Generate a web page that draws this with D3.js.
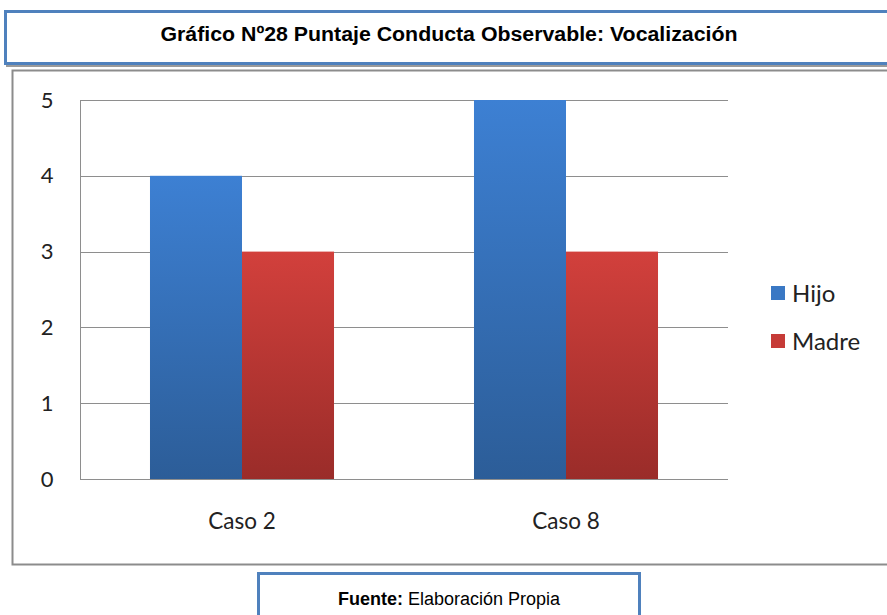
<!DOCTYPE html>
<html>
<head>
<meta charset="utf-8">
<script src="https://cdn.jsdelivr.net/npm/d3@7"></script>
<style>
  body { margin: 0; background: #fff; }
  svg { display: block; }
</style>
</head>
<body>
<svg id="chart" width="887" height="615"></svg>
<script>
// data
var categories = ["Caso 2", "Caso 8"];
var seriesNames = ["Hijo", "Madre"];
var hijo = [4, 5];
var madre = [3, 3];
var yTicks = [0, 1, 2, 3, 4, 5];

var titleText = "Gráfico Nº28 Puntaje Conducta Observable: Vocalización";

var svg = d3.select("#chart");

// gradients for the bars
var defs = svg.append("defs");
function addGrad(id, top, bottom) {
  var g = defs.append("linearGradient").attr("id", id)
    .attr("x1", 0).attr("y1", 0).attr("x2", 0).attr("y2", 1);
  g.append("stop").attr("offset", "0%").attr("stop-color", top);
  g.append("stop").attr("offset", "100%").attr("stop-color", bottom);
}
addGrad("gHijo", "#3d80d3", "#2c5d98");
addGrad("gMadre", "#d2403c", "#9a2c29");
var fills = ["url(#gHijo)", "url(#gMadre)"];
var legendFills = ["#3a78c4", "#c63b37"];

// title box
svg.append("rect").attr("x", 6).attr("y", 13).attr("width", 890).attr("height", 54)
  .attr("fill", "#9a9a9a");
svg.append("rect").attr("x", 5.5).attr("y", 11.5).attr("width", 890).attr("height", 52)
  .attr("fill", "#fff").attr("stroke", "#4f81bd").attr("stroke-width", 3);
svg.append("text").attr("x", 449).attr("y", 41).attr("text-anchor", "middle")
  .attr("font-family", "Liberation Sans, Arial, sans-serif").attr("font-weight", "bold")
  .attr("font-size", 20).attr("textLength", 577).attr("lengthAdjust", "spacingAndGlyphs")
  .attr("fill", "#000").text(titleText);

// chart box
svg.append("rect").attr("x", 12.5).attr("y", 70.5).attr("width", 890).attr("height", 494)
  .attr("fill", "#fff").attr("stroke", "#8c8c8c").attr("stroke-width", 2);

var margin = { left: 80, top: 100, right: 728, bottom: 479 };

var y = d3.scaleLinear().domain([0, 5]).range([margin.bottom, margin.top]);
var x0 = d3.scaleBand().domain(categories).range([margin.left, margin.right])
  .paddingInner(0.432).paddingOuter(0.216);
var x1 = d3.scaleBand().domain(seriesNames).range([0, x0.bandwidth()]);

// grid lines
svg.append("g").selectAll("line").data(yTicks).enter().append("line")
  .attr("x1", margin.left).attr("x2", margin.right)
  .attr("y1", d => Math.round(y(d)) + 0.5).attr("y2", d => Math.round(y(d)) + 0.5)
  .attr("stroke", "#8e8e8e").attr("stroke-width", 1);

// left axis line
svg.append("line").attr("x1", margin.left + 0.5).attr("x2", margin.left + 0.5)
  .attr("y1", margin.top).attr("y2", margin.bottom)
  .attr("stroke", "#8e8e8e");

// y axis labels
var yAxis = d3.axisLeft(y).tickValues(yTicks).tickFormat(d3.format("d")).tickSize(0).tickPadding(0);
var ya = svg.append("g").attr("transform", "translate(47,0)").call(yAxis);
ya.select(".domain").remove();
ya.selectAll("text").attr("font-family", "Lato, Carlito, Calibri, sans-serif")
  .attr("font-size", 22).attr("fill", "#222").attr("text-anchor", "middle");

// bars
var rows = categories.map(function (c, i) {
  return { cat: c, vals: [hijo[i], madre[i]] };
});
var groups = svg.append("g").selectAll("g").data(rows).enter().append("g")
  .attr("transform", d => "translate(" + x0(d.cat) + ",0)");
groups.selectAll("rect").data(d => d.vals.map((v, j) => ({ s: seriesNames[j], v: v, j: j })))
  .enter().append("rect")
  .attr("x", d => x1(d.s))
  .attr("width", x1.bandwidth())
  .attr("y", d => y(d.v))
  .attr("height", d => y(0) - y(d.v))
  .attr("fill", d => fills[d.j]);

// x axis labels
var xAxis = d3.axisBottom(x0).tickSize(0).tickPadding(0);
var xa = svg.append("g").attr("transform", "translate(0," + (margin.bottom + 34) + ")").call(xAxis);
xa.select(".domain").remove();
xa.selectAll("text").attr("font-family", "Lato, Carlito, Calibri, sans-serif")
  .attr("font-size", 22.5).attr("fill", "#222");

// legend
var legend = svg.append("g").selectAll("g").data(seriesNames).enter().append("g")
  .attr("transform", (d, i) => "translate(771," + (286 + i * 48) + ")");
legend.append("rect").attr("width", 14).attr("height", 14)
  .attr("fill", (d, i) => legendFills[i]);
legend.append("text").attr("x", 21).attr("y", 16)
  .attr("font-family", "Lato, Carlito, Calibri, sans-serif")
  .attr("font-size", 24).attr("fill", "#222").text(d => d);

// footer box
svg.append("rect").attr("x", 258.5).attr("y", 573.5).attr("width", 381).attr("height", 60)
  .attr("fill", "#fff").attr("stroke", "#4f81bd").attr("stroke-width", 3);
var foot = svg.append("text").attr("x", 449).attr("y", 605).attr("text-anchor", "middle")
  .attr("font-family", "Liberation Sans, Arial, sans-serif").attr("font-size", 18).attr("fill", "#000");
foot.append("tspan").attr("font-weight", "bold").text("Fuente:");
foot.append("tspan").text(" Elaboración Propia");
</script>
</body>
</html>
